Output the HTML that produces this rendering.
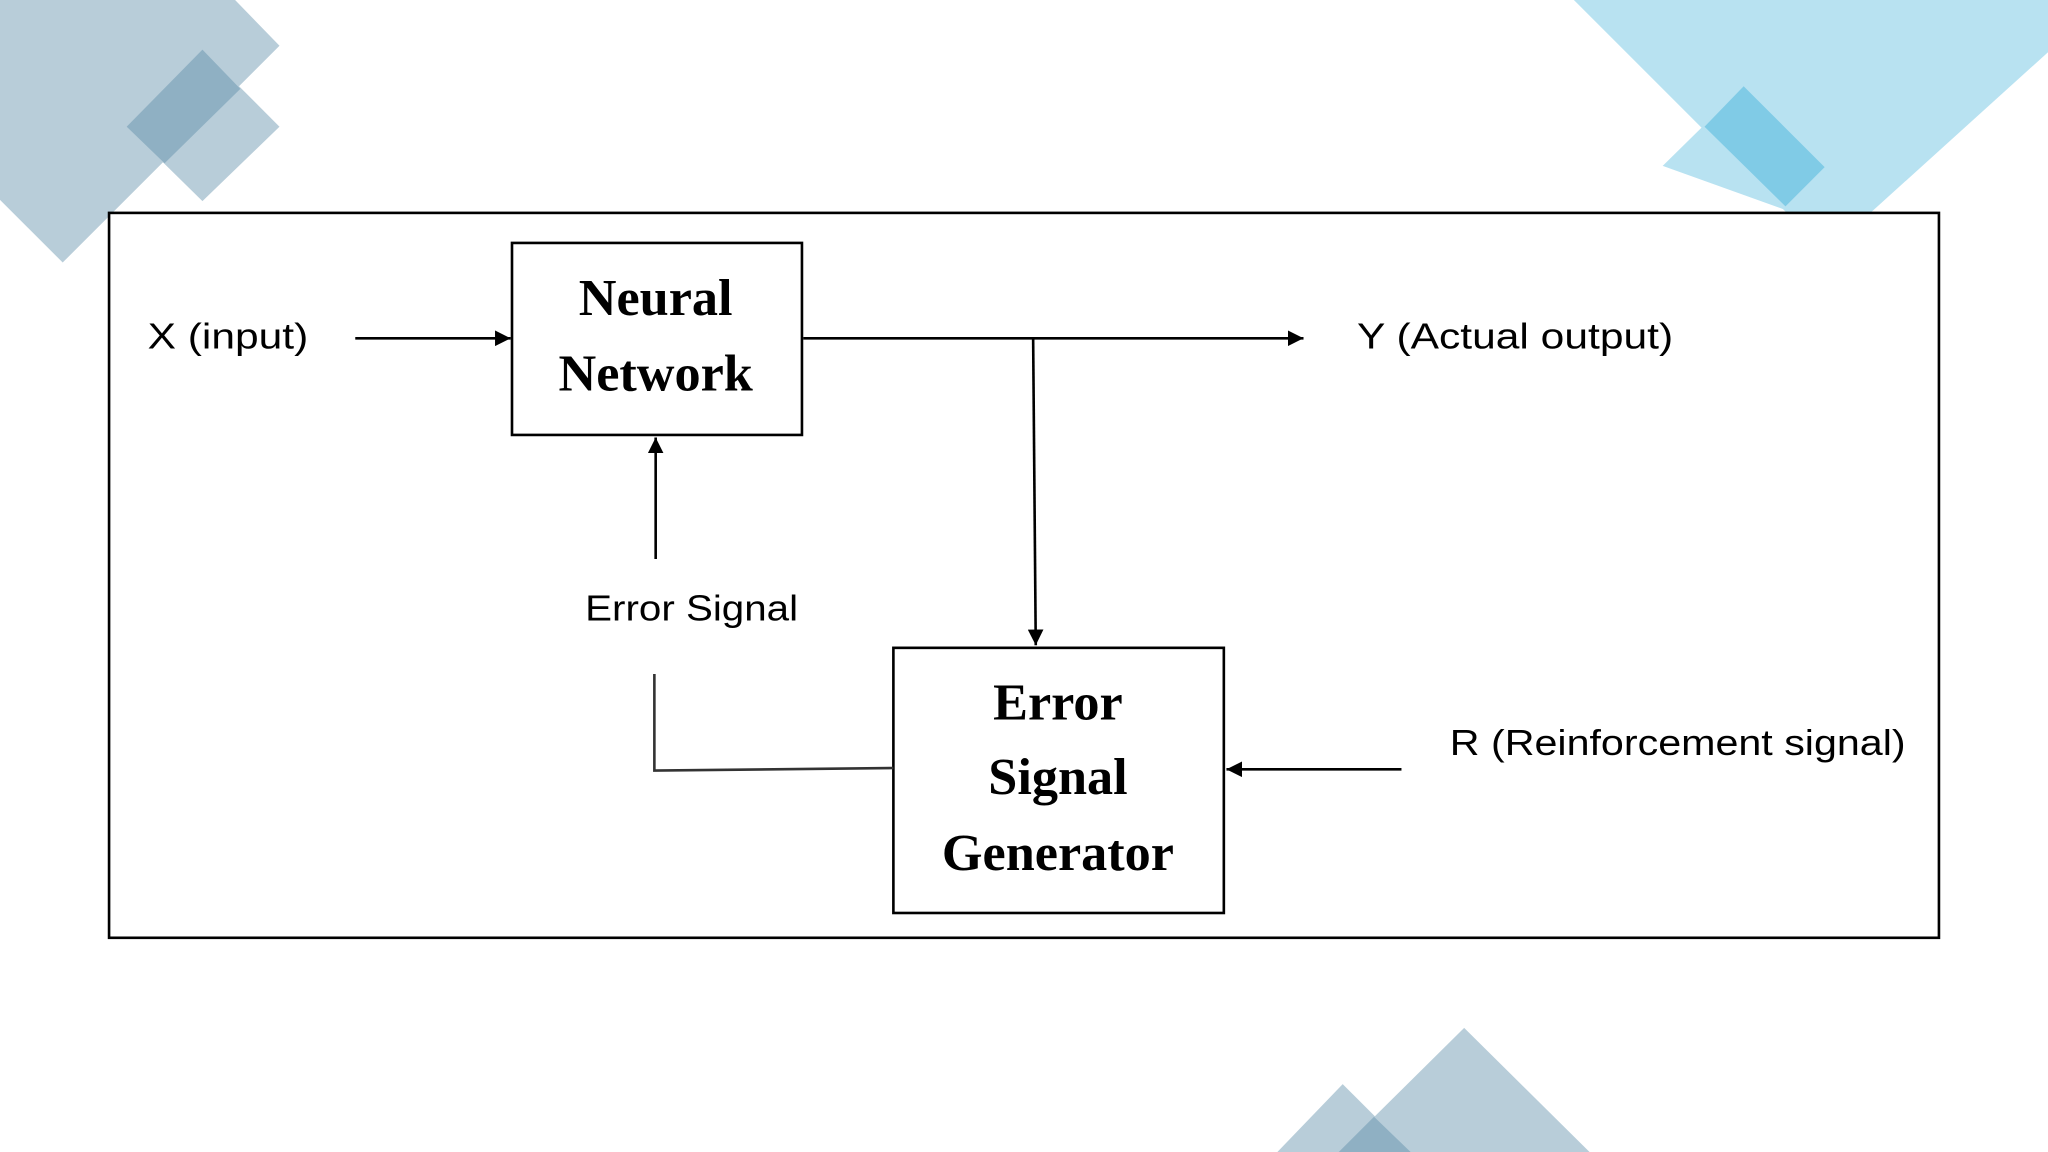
<!DOCTYPE html>
<html><head><meta charset="utf-8"><style>html,body{margin:0;padding:0;background:#fff}svg{display:block}</style></head>
<body>
<svg width="2048" height="1152" viewBox="0 0 1568 882" xmlns="http://www.w3.org/2000/svg">
<defs>
<marker id="a" viewBox="0 0 10 10" refX="10" refY="5" markerWidth="6" markerHeight="6" orient="auto-start-reverse" markerUnits="strokeWidth"><path d="M0,0L10,5L0,10z" fill="#000"/></marker>
</defs>
<rect width="1568" height="882" fill="#fff"/>
<!-- top-left decoration -->
<polygon points="0,0 180,0 214,35 48,201 0,153" fill="#b8cdd9"/>
<polygon points="155,38 214,97 155,154 97,97" fill="#b8cdd9"/>
<polygon points="155,38 184,68 126,125 97,97" fill="#8fb0c3"/>
<!-- top-right decoration -->
<polygon points="1205,0 1568,0 1568,40 1432,163 1368,163" fill="#b8e2f1"/>
<polygon points="1335,66 1397,128 1365,160 1273,127" fill="#b8e2f1"/>
<polygon points="1335,66 1397,128 1367,158 1305,97" fill="#80cbe6"/>
<!-- bottom decoration -->
<polygon points="1121,787 1217,882 1025,882" fill="#b8cdd9"/>
<polygon points="1028,830 1080,882 978,882" fill="#b8cdd9"/>
<polygon points="1052,855 1080,882 1025,882" fill="#8fb0c3"/>
<!-- main frame -->
<rect x="83.5" y="163" width="1401" height="555" fill="#fff" stroke="#000" stroke-width="2"/>
<!-- boxes -->
<rect x="392" y="186" width="222" height="147" fill="#fff" stroke="#000" stroke-width="2"/>
<rect x="684" y="496" width="253" height="203" fill="#fff" stroke="#000" stroke-width="2"/>
<g font-family="Liberation Serif, serif" font-weight="bold" font-size="40" text-anchor="middle" fill="#000">
<text x="502" y="241">Neural</text>
<text x="502" y="299">Network</text>
<text x="810" y="551">Error</text>
<text x="810" y="608">Signal</text>
<text x="810" y="666">Generator</text>
</g>
<g font-family="Liberation Sans, sans-serif" font-size="28" fill="#000">
<text x="113" y="267" textLength="123" lengthAdjust="spacingAndGlyphs">X (input)</text>
<text x="1039" y="267" textLength="242" lengthAdjust="spacingAndGlyphs">Y (Actual output)</text>
<text x="448" y="475" textLength="163" lengthAdjust="spacingAndGlyphs">Error Signal</text>
<text x="1110" y="578" textLength="349" lengthAdjust="spacingAndGlyphs">R (Reinforcement signal)</text>
</g>
<g stroke="#000" stroke-width="2" fill="none">
<line x1="272" y1="259" x2="391" y2="259" marker-end="url(#a)"/>
<line x1="615" y1="259" x2="998" y2="259" marker-end="url(#a)"/>
<line x1="791" y1="259" x2="793" y2="494" marker-end="url(#a)"/>
<line x1="502" y1="428" x2="502" y2="335" marker-end="url(#a)"/>
<polyline points="501,516 501,590 684,588" stroke="#333"/>
<line x1="1073" y1="589" x2="939" y2="589" marker-end="url(#a)"/>
</g>
</svg>
</body></html>
